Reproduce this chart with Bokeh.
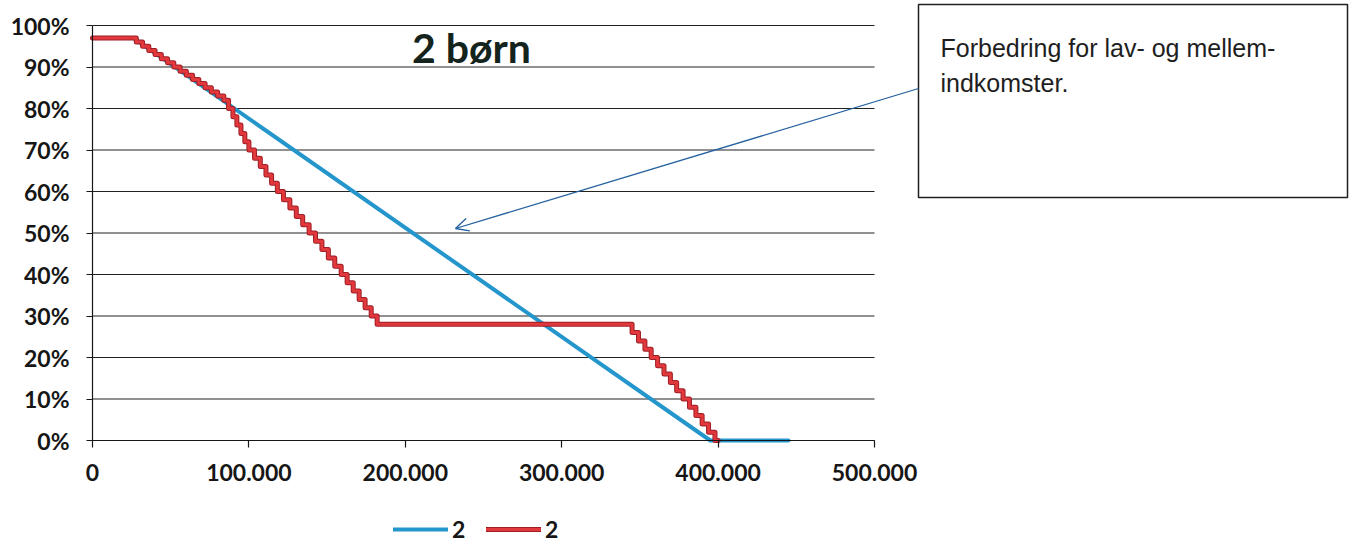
from bokeh.plotting import figure
from bokeh.models import (Range1d, FixedTicker, Legend, LegendItem, Label,
                          BoxAnnotation, Arrow, OpenHead)
from bokeh.embed import file_html
from bokeh.resources import INLINE

# ---------------- data ----------------
XTICKS = [0, 100000, 200000, 300000, 400000, 500000]
XLABELS = ["0", "100.000", "200.000", "300.000", "400.000", "500.000"]
YTICKS = [0, 10, 20, 30, 40, 50, 60, 70, 80, 90, 100]
YLABELS = ["0%", "10%", "20%", "30%", "40%", "50%", "60%", "70%", "80%", "90%", "100%"]

TITLE = "2 børn"
NOTE_1 = "Forbedring for lav- og mellem-"
NOTE_2 = "indkomster."
SERIES_NAMES = ["2", "2"]

blue_x = [0, 26000, 395000, 445000]
blue_y = [97, 97, 0, 0]

red_x = [0, 28000, 32000, 36000, 40000, 44000, 48000, 52000, 56000, 60000,
         64000, 68000, 72000, 76000, 80000, 84000,
         87000, 89800, 92300, 94900, 97400, 100000,
         103600, 107300, 110900, 114500, 118200,
         122100, 126200, 130300, 134400, 138500, 142600, 146700, 150800, 154900, 159000,
         162800, 166700, 170500, 174300, 178200, 182000,
         345000, 349100, 353200, 357200, 361300, 365400, 369500, 373500,
         377600, 381700, 385800, 389800, 393900, 398000, 400000]
red_y = [97, 96, 95, 94, 93, 92, 91, 90, 89, 88,
         87, 86, 85, 84, 83, 82,
         80, 78, 76, 74, 72, 70,
         68, 66, 64, 62, 60,
         58, 56, 54, 52, 50, 48, 46, 44, 42, 40,
         38, 36, 34, 32, 30, 28,
         26, 24, 22, 20, 18, 16, 14, 12,
         10, 8, 6, 4, 2, 0, 0]

# ---------------- layout (pixel geometry) ----------------
W, H = 1354, 545
X0P, X500P = 92, 874     # pixel of x=0 and x=500000
Y0P, Y100P = 440, 25     # pixel of 0% and 100%
SX = (X500P - X0P) / 500000.0
SY = (Y0P - Y100P) / 100.0


def px(p):
    return (p - X0P) / SX


def py(p):
    return (Y0P - p) / SY


p = figure(width=W, height=H, output_backend="svg", toolbar_location=None,
           x_range=Range1d(px(0), px(W)), y_range=Range1d(py(H), py(0)),
           min_border=0, min_border_left=0, min_border_right=0,
           min_border_top=0, min_border_bottom=0)
p.outline_line_color = None
p.background_fill_color = "white"
p.border_fill_color = "white"
p.grid.visible = False

INK = "#161616"
FONT = "Lato"

xa = p.xaxis[0]
xa.fixed_location = 0
xa.bounds = (0, 500000)
xa.ticker = FixedTicker(ticks=XTICKS)
xa.major_label_overrides = {t: l for t, l in zip(XTICKS, XLABELS)}
xa.minor_tick_line_color = None
xa.major_tick_in = 0
xa.major_tick_out = 7
xa.axis_line_color = INK
xa.axis_line_width = 1.2
xa.major_tick_line_color = INK
xa.major_tick_line_width = 1.2
xa.major_label_standoff = 16
xa.major_label_text_font = FONT
xa.major_label_text_font_style = "bold"
xa.major_label_text_font_size = "23px"
xa.major_label_text_color = INK

ya = p.yaxis[0]
ya.fixed_location = 0
ya.bounds = (0, 100)
ya.ticker = FixedTicker(ticks=YTICKS)
ya.major_label_overrides = {t: l for t, l in zip(YTICKS, YLABELS)}
ya.minor_tick_line_color = None
ya.major_tick_in = 0
ya.major_tick_out = 6
ya.axis_line_color = INK
ya.axis_line_width = 1.2
ya.major_tick_line_color = INK
ya.major_tick_line_width = 1.2
ya.major_label_standoff = 17
ya.major_label_text_font = FONT
ya.major_label_text_font_style = "bold"
ya.major_label_text_font_size = "23px"
ya.major_label_text_color = INK

# horizontal grid lines limited to the plot area
p.segment(x0=XTICKS[0], y0=YTICKS, x1=XTICKS[-1], y1=YTICKS,
          line_color="#222222", line_width=1.2)

# series
blue_r = p.line(blue_x, blue_y, line_color="#2496cc", line_width=4,
                line_join="round", line_cap="round")
red_edge = p.step(red_x, red_y, mode="after", line_color="#9e1e24", line_width=5,
                  line_join="round", line_cap="round")
red_top = p.step(red_x, red_y, mode="after", line_color="#e0383d", line_width=3,
                 line_join="round", line_cap="round")

legend = Legend(items=[LegendItem(label=SERIES_NAMES[0], renderers=[blue_r]),
                       LegendItem(label=SERIES_NAMES[1], renderers=[red_edge, red_top])],
                orientation="horizontal", location=(393, 2),
                glyph_width=55, glyph_height=22, label_height=22,
                label_standoff=4, spacing=14, padding=0, margin=0,
                border_line_color=None, background_fill_alpha=0,
                label_text_font=FONT, label_text_font_style="bold",
                label_text_font_size="23px", label_text_color=INK)
p.add_layout(legend)

# title
p.add_layout(Label(x=px(471), y=py(47), text=TITLE, text_align="center",
                   text_baseline="middle", text_font=FONT, text_font_style="bold",
                   text_font_size="41px", text_color="#14241c"))

# annotation box + arrow
p.add_layout(BoxAnnotation(left=px(918), right=px(1347), top=py(4), bottom=py(197),
                           fill_color="white", fill_alpha=1.0,
                           line_color="#202020", line_alpha=1.0, line_width=1.5))
p.add_layout(Label(x=px(940), y=py(47), text=NOTE_1, text_baseline="alphabetic",
                   text_font="Liberation Sans", text_font_size="25px", text_color="#1e1e1e"))
p.add_layout(Label(x=px(940), y=py(82), text=NOTE_2, text_baseline="alphabetic",
                   text_font="Liberation Sans", text_font_size="25px", text_color="#1e1e1e"))
p.add_layout(Arrow(x_start=px(918), y_start=py(88), x_end=px(455), y_end=py(228),
                   line_color="#23609f", line_width=1.3,
                   end=OpenHead(size=13, line_color="#23609f", line_width=1.3)))

open("out.html", "w").write(file_html(p, INLINE))
